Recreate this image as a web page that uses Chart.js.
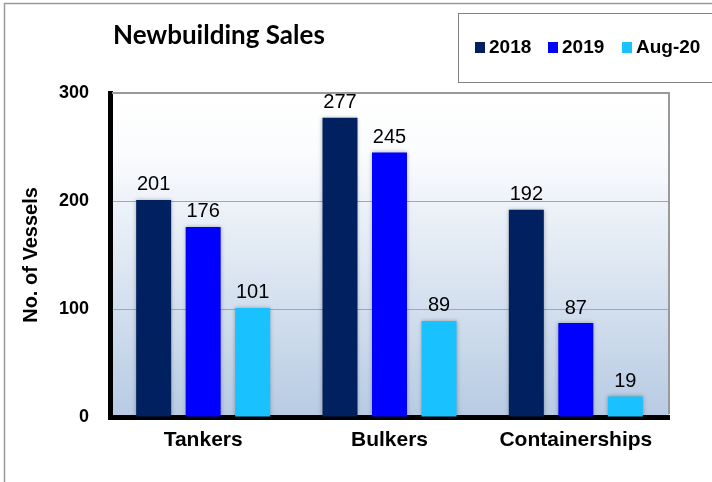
<!DOCTYPE html>
<html>
<head>
<meta charset="utf-8">
<script src="https://cdn.jsdelivr.net/npm/chart.js@4.4.1/dist/chart.umd.min.js"></script>
<style>
  html, body { margin: 0; padding: 0; background: #fff; }
  #wrap { width: 712px; height: 482px; }
</style>
</head>
<body>
<div id="wrap"><canvas id="chart" width="712" height="482"></canvas></div>
<script>
// data
const categories = ['Tankers', 'Bulkers', 'Containerships'];
const seriesNames = ['2018', '2019', 'Aug-20'];
const sales2018 = [201, 277, 192];
const sales2019 = [176, 245, 87];
const salesAug20 = [101, 89, 19];
const seriesColors = ['#002060', '#0000FF', '#1AC1FF'];
const chartTitle = 'Newbuilding Sales';
const yTitle = 'No. of Vessels';

// frame, plot background and the gray top/right border
const framePlugin = {
  id: 'frame',
  beforeDraw(chart) {
    const { ctx, chartArea: a } = chart;
    ctx.save();
    ctx.fillStyle = '#fff';
    ctx.fillRect(0, 0, chart.width, chart.height);
    ctx.strokeStyle = '#9a9a9a';
    ctx.lineWidth = 1.5;
    ctx.strokeRect(4.5, 3.5, 900, 700);
    const g = ctx.createLinearGradient(0, a.top, 0, a.bottom);
    g.addColorStop(0, '#ffffff');
    g.addColorStop(0.18, '#fbfcfe');
    g.addColorStop(1, '#b7cbe3');
    ctx.fillStyle = g;
    ctx.fillRect(a.left, a.top, a.right - a.left, a.bottom - a.top);
    ctx.restore();
  },
  beforeDatasetsDraw(chart) {
    const { ctx, chartArea: a } = chart;
    ctx.save();
    ctx.strokeStyle = '#9a9a9a';
    ctx.lineWidth = 2;
    ctx.beginPath();
    ctx.moveTo(a.left + 2, a.top);
    ctx.lineTo(a.right, a.top);
    ctx.lineTo(a.right, a.bottom - 3);
    ctx.stroke();
    ctx.restore();
    // soft edge round the bars
    ctx.save();
    ctx.shadowColor = 'rgba(0,0,0,0.3)';
    ctx.shadowBlur = 4;
  },
  afterDatasetsDraw(chart) {
    const ctx = chart.ctx;
    ctx.restore();
    // value labels above bars
    ctx.save();
    ctx.font = '20px "Liberation Sans", Arial, sans-serif';
    ctx.fillStyle = '#000';
    ctx.textAlign = 'center';
    ctx.textBaseline = 'bottom';
    chart.data.datasets.forEach((ds, i) => {
      chart.getDatasetMeta(i).data.forEach((bar, j) => {
        ctx.fillText(ds.data[j], bar.x, bar.y - 5);
      });
    });
    ctx.restore();
  },
  afterDraw(chart) {
    const ctx = chart.ctx;
    ctx.save();
    // title
    ctx.font = 'bold 26px Lato, "Open Sans", sans-serif';
    ctx.fillStyle = '#000';
    ctx.textBaseline = 'alphabetic';
    ctx.fillText(chartTitle, 113, 44);
    // legend box
    ctx.strokeStyle = '#808080';
    ctx.lineWidth = 1;
    ctx.strokeRect(458.5, 13.5, 400, 69);
    const xs = [475, 548, 622];
    ctx.font = 'bold 19px "Liberation Sans", Arial, sans-serif';
    ctx.textBaseline = 'middle';
    chart.data.datasets.forEach((ds, i) => {
      ctx.fillStyle = ds.backgroundColor;
      ctx.fillRect(xs[i], 42, 10, 11);
      ctx.fillStyle = '#000';
      ctx.fillText(ds.label, xs[i] + 14, 48);
    });
    ctx.restore();
  }
};

new Chart(document.getElementById('chart'), {
  type: 'bar',
  data: {
    labels: categories,
    datasets: [
      { label: seriesNames[0], data: sales2018, backgroundColor: seriesColors[0] },
      { label: seriesNames[1], data: sales2019, backgroundColor: seriesColors[1] },
      { label: seriesNames[2], data: salesAug20, backgroundColor: seriesColors[2] }
    ]
  },
  options: {
    responsive: false,
    animation: false,
    datasets: { bar: { categoryPercentage: 0.797, barPercentage: 0.707 } },
    layout: { padding: { left: 0, top: 93, right: 43, bottom: 0 } },
    plugins: { legend: { display: false }, tooltip: { enabled: false } },
    scales: {
      x: {
        afterFit(scale) { scale.height = 65; },
        grid: { display: false, drawTicks: false },
        border: { color: '#000', width: 5 },
        ticks: {
          color: '#000',
          padding: 11,
          font: { family: '"Liberation Sans", Arial, sans-serif', size: 21, weight: 'bold' }
        }
      },
      y: {
        min: 0,
        max: 300,
        afterFit(scale) { scale.width = 110; },
        grid: { color: '#a6a6a6', lineWidth: 1, drawTicks: false },
        border: { color: '#000', width: 5 },
        ticks: {
          stepSize: 100,
          color: '#000',
          padding: 21,
          font: { family: '"Liberation Sans", Arial, sans-serif', size: 18, weight: 'bold' }
        },
        title: {
          display: true,
          text: yTitle,
          color: '#000',
          padding: { top: 19, bottom: 0 },
          font: { family: '"Liberation Sans", Arial, sans-serif', size: 20, weight: 'bold' }
        }
      }
    }
  },
  plugins: [framePlugin]
});
</script>
</body>
</html>
